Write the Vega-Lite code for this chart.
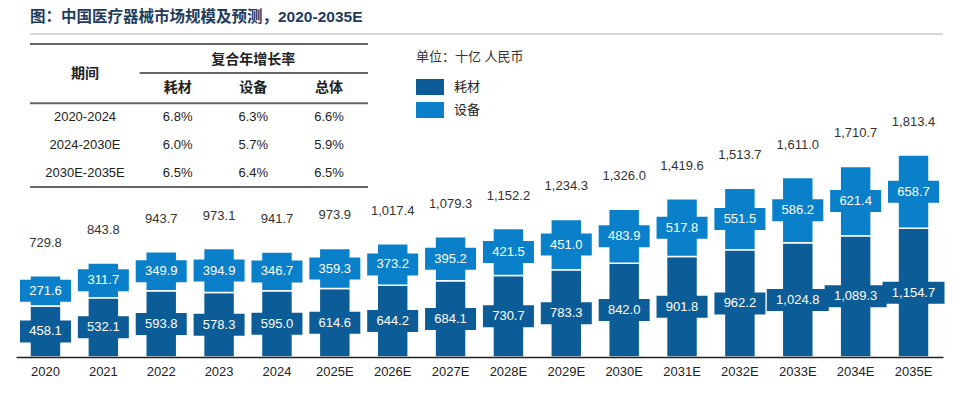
{
  "$schema": "https://vega.github.io/schema/vega-lite/v6.json",
  "width": 927,
  "height": 323,
  "autosize": {"type": "none"},
  "padding": {"left": 16, "top": 34, "right": 24, "bottom": 41},
  "background": "white",
  "config": {"font": "Liberation Sans, Noto Sans CJK SC", "view": {"stroke": null}},
  "title": {
    "text": "图：中国医疗器械市场规模及预测，2020-2035E",
    "anchor": "start", "frame": "group", "dx": 14, "offset": 8,
    "fontSize": 15.5, "fontWeight": "bold", "color": "#1f3b5e",
    "font": "Liberation Sans, Noto Sans CJK SC"
  },
  "datasets": {
    "bars": [
      {"year": "2020", "item": "耗材", "value": 458.1}, {"year": "2020", "item": "设备", "value": 271.6},
      {"year": "2021", "item": "耗材", "value": 532.1}, {"year": "2021", "item": "设备", "value": 311.7},
      {"year": "2022", "item": "耗材", "value": 593.8}, {"year": "2022", "item": "设备", "value": 349.9},
      {"year": "2023", "item": "耗材", "value": 578.3}, {"year": "2023", "item": "设备", "value": 394.9},
      {"year": "2024", "item": "耗材", "value": 595.0}, {"year": "2024", "item": "设备", "value": 346.7},
      {"year": "2025E", "item": "耗材", "value": 614.6}, {"year": "2025E", "item": "设备", "value": 359.3},
      {"year": "2026E", "item": "耗材", "value": 644.2}, {"year": "2026E", "item": "设备", "value": 373.2},
      {"year": "2027E", "item": "耗材", "value": 684.1}, {"year": "2027E", "item": "设备", "value": 395.2},
      {"year": "2028E", "item": "耗材", "value": 730.7}, {"year": "2028E", "item": "设备", "value": 421.5},
      {"year": "2029E", "item": "耗材", "value": 783.3}, {"year": "2029E", "item": "设备", "value": 451.0},
      {"year": "2030E", "item": "耗材", "value": 842.0}, {"year": "2030E", "item": "设备", "value": 483.9},
      {"year": "2031E", "item": "耗材", "value": 901.8}, {"year": "2031E", "item": "设备", "value": 517.8},
      {"year": "2032E", "item": "耗材", "value": 962.2}, {"year": "2032E", "item": "设备", "value": 551.5},
      {"year": "2033E", "item": "耗材", "value": 1024.8}, {"year": "2033E", "item": "设备", "value": 586.2},
      {"year": "2034E", "item": "耗材", "value": 1089.3}, {"year": "2034E", "item": "设备", "value": 621.4},
      {"year": "2035E", "item": "耗材", "value": 1154.7}, {"year": "2035E", "item": "设备", "value": 658.7}
    ],
    "totals": [
      {"year": "2020", "total": 729.8}, {"year": "2021", "total": 843.8}, {"year": "2022", "total": 943.7},
      {"year": "2023", "total": 973.1}, {"year": "2024", "total": 941.7}, {"year": "2025E", "total": 973.9},
      {"year": "2026E", "total": 1017.4}, {"year": "2027E", "total": 1079.3}, {"year": "2028E", "total": 1152.2},
      {"year": "2029E", "total": 1234.3}, {"year": "2030E", "total": 1326.0}, {"year": "2031E", "total": 1419.6},
      {"year": "2032E", "total": 1513.7}, {"year": "2033E", "total": 1611.0}, {"year": "2034E", "total": 1710.7},
      {"year": "2035E", "total": 1813.4}
    ],
    "cagr": [
      {"period": "2020-2024", "item": "耗材", "cagr": "6.8%"},
      {"period": "2020-2024", "item": "设备", "cagr": "6.3%"},
      {"period": "2020-2024", "item": "总体", "cagr": "6.6%"},
      {"period": "2024-2030E", "item": "耗材", "cagr": "6.0%"},
      {"period": "2024-2030E", "item": "设备", "cagr": "5.7%"},
      {"period": "2024-2030E", "item": "总体", "cagr": "5.9%"},
      {"period": "2030E-2035E", "item": "耗材", "cagr": "6.5%"},
      {"period": "2030E-2035E", "item": "设备", "cagr": "6.4%"},
      {"period": "2030E-2035E", "item": "总体", "cagr": "6.5%"}
    ]
  },
  "layer": [
    {
      "data": {"name": "bars"},
      "transform": [
        {"stack": "value", "groupby": ["year"], "sort": [{"field": "item", "order": "ascending"}], "as": ["v0", "v1"]},
        {"calculate": "(datum.v0 + datum.v1) / 2", "as": "mid"}
      ],
      "encoding": {
        "x": {
          "field": "year", "type": "nominal",
          "scale": {
            "domain": ["2020", "2021", "2022", "2023", "2024", "2025E", "2026E", "2027E", "2028E", "2029E", "2030E", "2031E", "2032E", "2033E", "2034E", "2035E"],
            "paddingInner": 0.465, "paddingOuter": 0.242
          },
          "axis": {
            "title": null, "ticks": false, "grid": false, "labelAngle": 0,
            "labelFontSize": 13, "labelColor": "#222", "labelPadding": 8,
            "domainColor": "#222", "domainWidth": 1.5, "zindex": 1
          }
        }
      },
      "layer": [
        {
          "mark": {"type": "bar", "stroke": "white", "strokeWidth": 1.5},
          "encoding": {
            "y": {"field": "v0", "type": "quantitative", "scale": {"domain": [0, 2899], "nice": false}, "axis": null},
            "y2": {"field": "v1"},
            "color": {
              "field": "item", "type": "nominal",
              "scale": {"domain": ["耗材", "设备"], "range": ["#0c5d97", "#0a80cb"]},
              "legend": {
                "title": "单位：十亿 人民币", "orient": "none", "legendX": 400, "legendY": 17,
                "direction": "vertical", "symbolType": "M-1,-0.571H1V0.571H-1Z", "symbolSize": 784,
                "symbolStrokeWidth": 0, "symbolOpacity": 1,
                "labelFontSize": 13, "labelColor": "#222", "labelOffset": 10,
                "titleFontSize": 13, "titleFontWeight": "normal", "titleColor": "#333",
                "titlePadding": 9, "rowPadding": 1, "padding": 0
              }
            }
          }
        },
        {
          "mark": {"type": "point", "filled": true, "opacity": 1, "strokeWidth": 0},
          "encoding": {
            "y": {"field": "mid", "type": "quantitative"},
            "color": {"field": "item", "type": "nominal"},
            "shape": {"condition": {"test": "datum.value >= 1000", "value": "M-1,-0.355H1V0.355H-1Z"}, "value": "M-1,-0.431H1V0.431H-1Z"},
            "size": {"condition": {"test": "datum.value >= 1000", "value": 3844}, "value": 2601}
          }
        },
        {
          "mark": {"type": "text", "color": "white", "fontSize": 13, "baseline": "middle"},
          "encoding": {
            "y": {"field": "mid", "type": "quantitative"},
            "text": {"field": "value", "type": "quantitative", "format": ",.1f"}
          }
        },
        {
          "data": {"name": "totals"},
          "transform": [],
          "mark": {"type": "text", "color": "#333", "fontSize": 13, "baseline": "middle", "dy": -33},
          "encoding": {
            "y": {"field": "total", "type": "quantitative"},
            "text": {"field": "total", "type": "quantitative", "format": ",.1f"}
          }
        },
        {
          "data": {"values": [{"edge": "top"}]},
          "transform": [],
          "mark": {"type": "rule", "color": "#cccccc", "strokeWidth": 1.5},
          "encoding": {
            "x": {"datum": "2020", "type": "nominal", "bandPosition": 0},
            "x2": {"value": "width"},
            "y": {"datum": 2899, "type": "quantitative"}
          }
        }
      ]
    },
    {
      "data": {"name": "cagr"},
      "encoding": {
        "x": {"type": "nominal", "scale": {"type": "point", "domain": ["期间", "耗材", "设备", "总体"], "range": [86, 313], "padding": 0}, "axis": null},
        "y": {"type": "nominal", "scale": {"type": "point", "domain": ["header", "subheader", "2020-2024", "2024-2030E", "2030E-2035E"], "range": [26, 139], "padding": 0}, "axis": null}
      },
      "layer": [
        {
          "mark": {"type": "text", "fontSize": 13, "color": "#222", "baseline": "middle"},
          "encoding": {
            "x": {"field": "item", "type": "nominal"},
            "y": {"field": "period", "type": "nominal"},
            "text": {"field": "cagr"}
          }
        },
        {
          "transform": [{"filter": "datum.item === '耗材'"}],
          "mark": {"type": "text", "fontSize": 13, "color": "#222", "baseline": "middle", "dx": -17},
          "encoding": {
            "x": {"datum": "期间", "type": "nominal"},
            "y": {"field": "period", "type": "nominal"},
            "text": {"field": "period"}
          }
        },
        {
          "transform": [{"filter": "datum.period === '2020-2024'"}],
          "mark": {"type": "text", "fontSize": 14, "fontWeight": "bold", "color": "#222", "baseline": "middle"},
          "encoding": {
            "x": {"field": "item", "type": "nominal"},
            "y": {"datum": "subheader", "type": "nominal"},
            "text": {"field": "item"}
          }
        },
        {
          "data": {"values": [{"label": "期间"}]},
          "mark": {"type": "text", "fontSize": 14, "fontWeight": "bold", "color": "#222", "baseline": "middle", "dx": -17, "dy": 14},
          "encoding": {
            "x": {"datum": "期间", "type": "nominal"},
            "y": {"datum": "header", "type": "nominal"},
            "text": {"field": "label"}
          }
        },
        {
          "data": {"values": [{"label": "复合年增长率"}]},
          "mark": {"type": "text", "fontSize": 14, "fontWeight": "bold", "color": "#222", "baseline": "middle"},
          "encoding": {
            "x": {"datum": "设备", "type": "nominal"},
            "y": {"datum": "header", "type": "nominal"},
            "text": {"field": "label"}
          }
        },
        {
          "data": {"values": [{"line": "top"}]},
          "mark": {"type": "rule", "color": "#666", "strokeWidth": 2, "xOffset": -72, "x2Offset": 39, "yOffset": -16},
          "encoding": {
            "x": {"datum": "期间", "type": "nominal"},
            "x2": {"datum": "总体"},
            "y": {"datum": "header", "type": "nominal"}
          }
        },
        {
          "data": {"values": [{"line": "group"}]},
          "mark": {"type": "rule", "color": "#333", "strokeWidth": 1.5, "xOffset": -38, "x2Offset": 39, "yOffset": 13},
          "encoding": {
            "x": {"datum": "耗材", "type": "nominal"},
            "x2": {"datum": "总体"},
            "y": {"datum": "header", "type": "nominal"}
          }
        },
        {
          "data": {"values": [{"line": "sub"}]},
          "mark": {"type": "rule", "color": "#666", "strokeWidth": 2, "xOffset": -72, "x2Offset": 39, "yOffset": 15},
          "encoding": {
            "x": {"datum": "期间", "type": "nominal"},
            "x2": {"datum": "总体"},
            "y": {"datum": "subheader", "type": "nominal"}
          }
        },
        {
          "data": {"values": [{"line": "bottom"}]},
          "mark": {"type": "rule", "color": "#666", "strokeWidth": 2, "xOffset": -72, "x2Offset": 39, "yOffset": 14},
          "encoding": {
            "x": {"datum": "期间", "type": "nominal"},
            "x2": {"datum": "总体"},
            "y": {"datum": "2030E-2035E", "type": "nominal"}
          }
        }
      ]
    }
  ],
  "resolve": {"scale": {"x": "independent", "y": "independent"}}
}
